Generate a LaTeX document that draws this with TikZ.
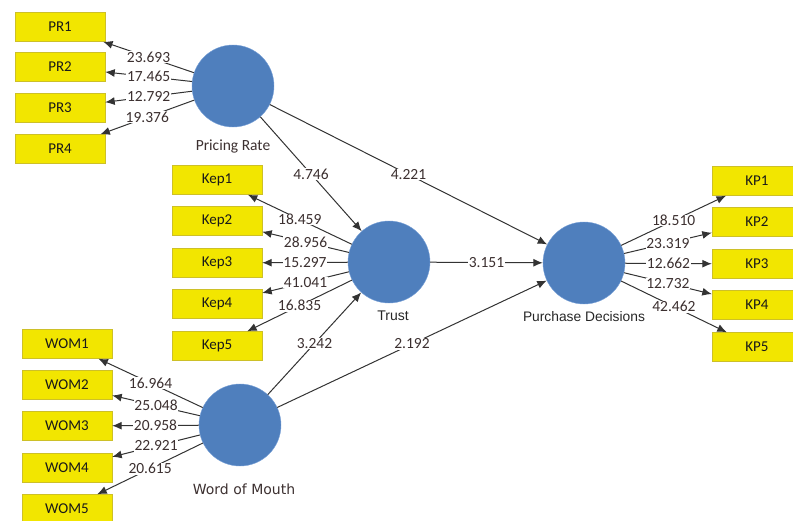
\documentclass[tikz,border=0pt]{standalone}
\usepackage{fontspec}
\setmainfont{Carlito}
\newfontfamily\arialfont{Liberation Sans}
\newfontfamily\tahomafont{DejaVu Sans}
\usetikzlibrary{positioning, arrows.meta}

\definecolor{boxyellow}{RGB}{242,230,0}
\definecolor{boxedge}{RGB}{205,192,40}
\definecolor{latentblue}{RGB}{79,127,189}
\definecolor{latentedge}{RGB}{120,160,215}
\definecolor{valuetext}{RGB}{60,48,48}

\begin{document}
\begin{tikzpicture}[x=1pt, y=-1pt,
  indicator/.style={draw=boxedge, fill=boxyellow, minimum width=90pt, minimum height=29pt,
    inner sep=0pt, text=black!90, font=\fontsize{15}{16}\selectfont},
  latent/.style={circle, draw=latentedge, fill=latentblue, minimum size=82pt, inner sep=0pt},
  load/.style={draw=black!80, line width=1pt, -{Latex[length=9.5pt, width=8pt]}},
  value/.style={midway, fill=white, inner sep=0.6pt, text=valuetext,
    font=\fontsize{15.5}{16}\selectfont}]
\clip (0,0) rectangle (793,520);

\path
(233,86) node[latent] (pr) {}
node[below=9pt of pr, text=valuetext, font=\fontsize{15.5}{17}\selectfont] (pr-label) {Pricing Rate}
(389,262) node[latent] (trust) {}
node[below=4pt of trust, xshift=4pt, text=black!85, font=\arialfont\fontsize{14}{16}\selectfont] (trust-label) {Trust}
(584,263) node[latent] (pd) {}
node[below=4pt of pd, text=black!85, font=\arialfont\fontsize{13.8}{16}\selectfont] (pd-label) {Purchase Decisions}
(240,425) node[latent] (wom) {}
node[below=14pt of wom, xshift=4pt, text=valuetext, font=\tahomafont\fontsize{14}{16}\selectfont] (wom-label) {Word of Mouth}
;

% indicators
\path
(60,27) node[indicator] (pr1) {PR1}
(60,67) node[indicator] (pr2) {PR2}
(60,108) node[indicator] (pr3) {PR3}
(60,149) node[indicator] (pr4) {PR4}
(217,180) node[indicator] (kep1) {Kep1}
(217,221) node[indicator] (kep2) {Kep2}
(217,263) node[indicator] (kep3) {Kep3}
(217,304) node[indicator] (kep4) {Kep4}
(217,346) node[indicator] (kep5) {Kep5}
(757,181) node[indicator] (kp1) {KP1}
(757,222) node[indicator] (kp2) {KP2}
(757,264) node[indicator] (kp3) {KP3}
(757,305) node[indicator] (kp4) {KP4}
(757,347) node[indicator] (kp5) {KP5}
(67,344) node[indicator] (wom1) {WOM1}
(67,385) node[indicator] (wom2) {WOM2}
(67,426) node[indicator] (wom3) {WOM3}
(67,468) node[indicator] (wom4) {WOM4}
(67,509) node[indicator] (wom5) {WOM5}
;

% outer loadings
\draw[load] (pr) -- node[value] {23.693} (pr1);
\draw[load] (pr) -- node[value] {17.465} (pr2);
\draw[load] (pr) -- node[value] {12.792} (pr3);
\draw[load] (pr) -- node[value] {19.376} (pr4);

\draw[load] (trust) -- node[value] {18.459} (kep1);
\draw[load] (trust) -- node[value] {28.956} (kep2);
\draw[load] (trust) -- node[value] {15.297} (kep3);
\draw[load] (trust) -- node[value] {41.041} (kep4);
\draw[load] (trust) -- node[value] {16.835} (kep5);

\draw[load] (pd) -- node[value] {18.510} (kp1);
\draw[load] (pd) -- node[value] {23.319} (kp2);
\draw[load] (pd) -- node[value] {12.662} (kp3);
\draw[load] (pd) -- node[value] {12.732} (kp4);
\draw[load] (pd) -- node[value] {42.462} (kp5);

\draw[load] (wom) -- node[value] {16.964} (wom1);
\draw[load] (wom) -- node[value] {25.048} (wom2);
\draw[load] (wom) -- node[value] {20.958} (wom3);
\draw[load] (wom) -- node[value] {22.921} (wom4);
\draw[load] (wom) -- node[value] {20.615} (wom5);

% inner model
\draw[load] (pr) -- node[value] {4.746} (trust);
\draw[load] (pr) -- node[value] {4.221} (pd);
\draw[load] (trust) -- node[value] {3.151} (pd);
\draw[load] (wom) -- node[value] {3.242} (trust);
\draw[load] (wom) -- node[value] {2.192} (pd);

\end{tikzpicture}
\end{document}
